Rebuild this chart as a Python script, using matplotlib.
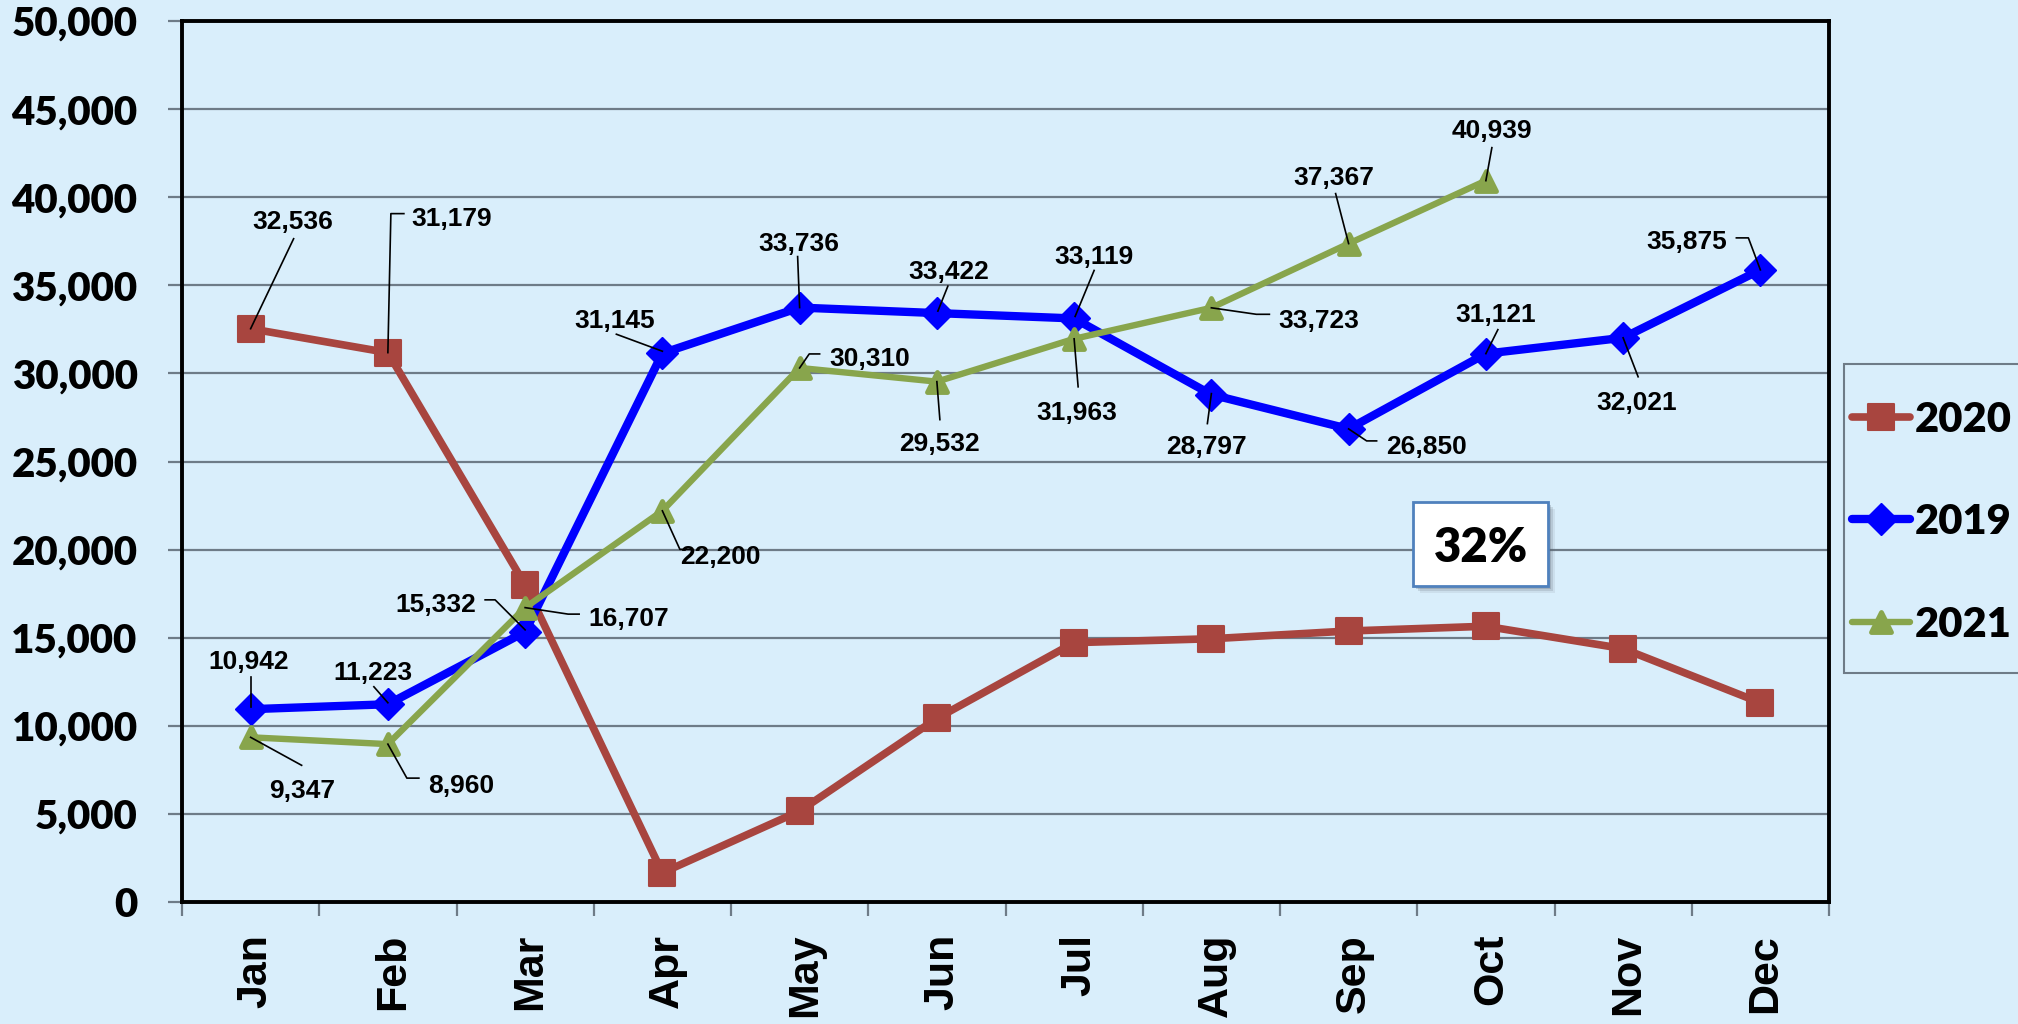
import numpy as np
import matplotlib
matplotlib.use("Agg")
import matplotlib.pyplot as plt
from matplotlib.lines import Line2D
from matplotlib.patches import Rectangle
from matplotlib.markers import MarkerStyle
from matplotlib.transforms import IdentityTransform, ScaledTranslation

# ---------------- data ----------------
months = ['Jan', 'Feb', 'Mar', 'Apr', 'May', 'Jun', 'Jul', 'Aug', 'Sep', 'Oct', 'Nov', 'Dec']
series_names = ['2020', '2019', '2021']
sales_2020 = [32536, 31179, 18000, 1660, 5160, 10420, 14720, 14940, 15380, 15650, 14380, 11310]
sales_2019 = [10942, 11223, 15332, 31145, 33736, 33422, 33119, 28797, 26850, 31121, 32021, 35875]
sales_2021 = [9347, 8960, 16707, 22200, 30310, 29532, 31963, 33723, 37367, 40939]
labelled_2020 = [0, 1]          # only Jan and Feb of 2020 carry data labels
y_ticks = [0, 5000, 10000, 15000, 20000, 25000, 30000, 35000, 40000, 45000, 50000]
note_text = '32%'

# ---------------- style / layout ----------------
W, H = 2018, 1024
BG = '#D9EEFB'
GRID = '#6E7B87'
C2020 = '#A8453F'
C2019 = '#0000FF'
C2021 = '#88A54C'
HEAVY = 'heavy'

# label layouts: (text centre offset, leader path) in reference pixels (x right, y down) from marker
lay_2020 = {0: ((42, -109), [(43, -90), (0, 0)]),
            1: ((64, -136), [(16, -139), (3, -139), (0, 0)])}
lay_2019 = {0: ((-2, -50), [(0, -32), (0, -2)]),
            1: ((-15, -34), [(-14, -17.5), (0, -1.5)]),
            2: ((-89, -29), [(-40, -32), (-30, -32), (0, -2)]),
            3: ((-48, -35), [(-46, -19), (0, -2)]),
            4: ((-1, -66), [(-2, -51), (0, 0)]),
            5: ((12, -44), [(11, -27), (1, -2)]),
            6: ((20, -64), [(20, -48), (1, -2)]),
            7: ((-5, 50), [(-4, 29), (0, -1)]),
            8: ((78, 16), [(28, 12), (18, 12), (0, 0)]),
            9: ((10, -41), [(12, -24), (0, 0)]),
            10: ((14, 63), [(15, 39), (0, 0)]),
            11: ((-74, -30), [(-24, -32), (-12, -32), (0, 0)])}
lay_2021 = {0: ((52, 51), [(51, 28), (0, 0)]),
            1: ((73, 39), [(31, 34), (19, 34), (0, 0)]),
            2: ((104, 9), [(54, 6.5), (43, 6.5), (0, 0)]),
            3: ((58, 44), [(28, 38.5), (17.5, 38.5), (0, 0)]),
            4: ((70, -11), [(20, -14), (9.6, -14), (0, 0)]),
            5: ((3, 60), [(3, 38), (0, 0)]),
            6: ((3, 72), [(4, 48), (0, 0)]),
            7: ((107, 10.5), [(58, 6.5), (45, 6.5), (0, 0)]),
            8: ((-15, -68), [(-13, -50), (0, 0)]),
            9: ((6, -52), [(6, -33), (0, 0)])}

fig = plt.figure(figsize=(W / 100, H / 100), dpi=100, facecolor=BG)
ax = fig.add_axes([182 / W, 1 - 902 / H, (1829 - 182) / W, (902 - 21) / H])
ax.set_facecolor(BG)
ax.set_xlim(-0.5, 11.5)
ax.set_ylim(0, 50000)

ax.set_yticks(y_ticks)
ax.set_yticklabels([f"{t:,}" for t in y_ticks], fontfamily='Lato', fontweight=HEAVY, fontsize=29)
ax.yaxis.grid(True, color=GRID, lw=1.6)
ax.set_axisbelow(True)
ax.tick_params(axis='y', length=10, width=1.6, color=GRID, pad=22)

ax.set_xticks(np.arange(-0.5, 12, 1))
ax.set_xticklabels([])
ax.set_xticks(np.arange(len(months)), minor=True)
ax.set_xticklabels(months, minor=True, rotation=90, fontfamily='Liberation Sans',
                   fontweight='bold', fontsize=31)
ax.tick_params(axis='x', which='major', length=10, width=1.6, color=GRID)
ax.tick_params(axis='x', which='minor', length=0, pad=23)
for lbl in ax.get_xticklabels(minor=True):
    lbl.set_transform(lbl.get_transform() + ScaledTranslation(5 / 100, 0, fig.dpi_scale_trans))

for s in ax.spines.values():
    s.set_color('black')
    s.set_linewidth(2.8)
    s.set_zorder(5)

mk_s = MarkerStyle('s', joinstyle='round')
mk_d = MarkerStyle('D', joinstyle='miter')
mk_t = MarkerStyle('^', joinstyle='round')

specs = [
    (sales_2020, C2020, 5.5, mk_s, 19, 1.5, lay_2020),
    (sales_2019, C2019, 6.0, mk_d, 16.5, 1.0, lay_2019),
    (sales_2021, C2021, 4.6, mk_t, 14, 3.5, lay_2021),
]
for z, (vals, col, lw, mk, ms, mew, lay) in enumerate(specs):
    xs = np.arange(len(vals))
    ax.plot(xs, vals, color=col, lw=lw, marker=mk, ms=ms, mfc=col, mec=col, mew=mew,
            zorder=3 + z * 0.1, solid_joinstyle='round')

LBL_FS = 19
cap_px = 0.716 * LBL_FS * 100 / 72
for vals, col, lw, mk, ms, mew, lay in specs:
    for i, ((tdx, tdy), path) in lay.items():
        v = vals[i]
        mx, my = ax.transData.transform((i, v))
        ax.annotate(f"{v:,}", xy=(i, v), xycoords='data',
                    xytext=(tdx, -(tdy + cap_px / 2)), textcoords='offset pixels',
                    ha='center', va='baseline', fontfamily='Liberation Sans',
                    fontweight='bold', fontsize=LBL_FS, color='black', zorder=6)
        lx = [mx + dx for dx, dy in path]
        ly = [my - dy for dx, dy in path]
        fig.add_artist(Line2D(lx, ly, transform=IdentityTransform(), color='black',
                              lw=1.2, zorder=6))


def fx(x):
    return x / W


def fy(y):
    return 1 - y / H


# 32% note box with soft shadow
for k, a in [(7, 0.10), (5, 0.18), (3, 0.25)]:
    fig.add_artist(Rectangle((fx(1413 + k), fy(586 + k)), (1548 - 1413) / W, (586 - 502) / H,
                             transform=fig.transFigure, facecolor='#5A6470', edgecolor='none',
                             alpha=a, zorder=7))
fig.add_artist(Rectangle((fx(1413), fy(586)), (1548 - 1413) / W, (586 - 502) / H,
                         transform=fig.transFigure, facecolor='white', edgecolor='#4F81BD',
                         lw=2, zorder=8))
fig.text(fx(1481), fy(544 + 17.5), note_text, ha='center', va='baseline', fontfamily='Lato',
         fontweight=HEAVY, fontsize=34, zorder=9)

# legend (manual, to match frame that runs off the right edge)
fig.add_artist(Rectangle((fx(1844), fy(673)), (2040 - 1844) / W, (673 - 364) / H,
                         transform=fig.transFigure, facecolor=BG, edgecolor=GRID, lw=1.5, zorder=7))
leg_y = [417, 519, 622]
for (vals, col, lw, mk, ms, mew, lay), name, yy in zip(specs, series_names, leg_y):
    fig.add_artist(Line2D([fx(1852), fx(1881), fx(1910)], [fy(yy)] * 3, transform=fig.transFigure,
                          color=col, lw=lw, marker=mk, ms=ms, mfc=col, mec=col, mew=mew,
                          markevery=[1], solid_capstyle='round', zorder=8))
    fig.text(fx(1915), fy(yy + 15), name, ha='left', va='baseline', fontfamily='Lato',
             fontweight=HEAVY, fontsize=30, zorder=9)

fig.savefig('out.png', dpi=100, facecolor=BG)
